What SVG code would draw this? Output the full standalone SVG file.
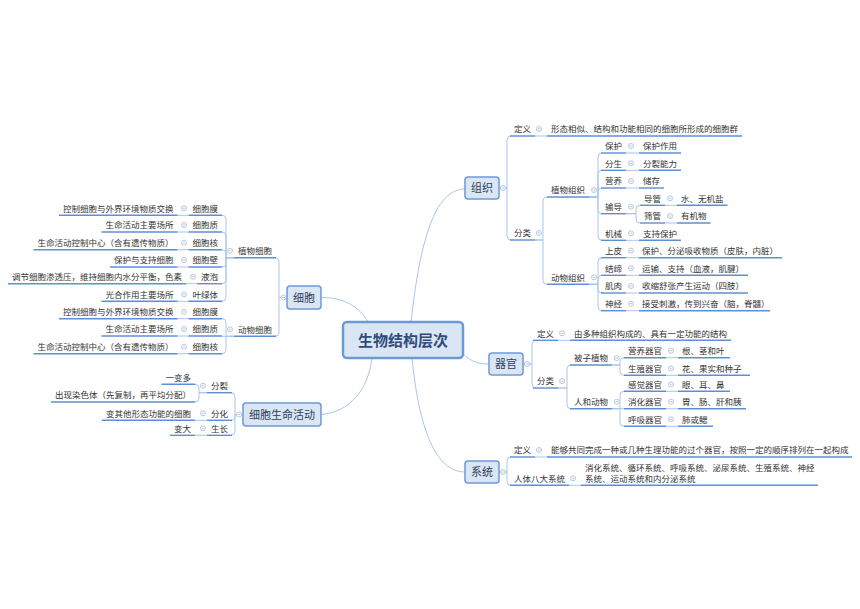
<svg xmlns="http://www.w3.org/2000/svg" xmlns:xlink="http://www.w3.org/1999/xlink" width="860" height="609" viewBox="0 0 860 609">
<style>
text{font-family:"Noto Sans CJK SC","Noto Sans",sans-serif;font-size:8.5px;fill:#333}
.e{text-anchor:end}
.b{font-size:11px;fill:#2e3f5c;text-anchor:middle}
.c{font-size:15px;font-weight:bold;fill:#2f4d7c;text-anchor:middle}
.box{fill:#dbe6f4;stroke:#6c9ad6;stroke-width:1.5}
.ul{stroke:#5d8fd5;stroke-width:1.4;fill:none}
.cn{stroke:#a9c5ec;stroke-width:1;fill:none}
.mk{fill:#fff;stroke:#a5b9d6;stroke-width:0.8}
</style>
<defs>
<g id="m"><circle class="mk" r="2.5"/><path d="M-1.3,0H1.3" stroke="#a5b9d6" stroke-width="0.8"/></g>
</defs>
<rect width="860" height="609" fill="#fff"/>

<g id="connectors">
<!-- central -->
<path class="cn" d="M411,322 C420,240 435,189 465,189"/>
<path class="cn" d="M463,354 C472,362 478,364 489,364"/>
<path class="cn" d="M412,358 C420,440 440,472 465,472"/>
<path class="cn" d="M321,297.5 C345,297 360,308 368,322"/>
<path class="cn" d="M321,414.5 C350,412 368,390 372,358"/>
<!-- 组织 -->
<path class="cn" d="M499,188 H507 V140 Q507,136 511,136"/>
<path class="cn" d="M499,188 H507 V236 Q507,240 511,240"/>
<path class="cn" d="M535,136 H547"/>
<path class="cn" d="M535,240 H543 V201 Q543,197 547,197"/>
<path class="cn" d="M535,240 H543 V280.3 Q543,284.3 547,284.3"/>
<path class="cn" d="M589,197 H598 V157 Q598,153 602,153"/>
<path class="cn" d="M589,197 H598 V174.3 Q598,170.3 602,170.3"/>
<path class="cn" d="M589,197 H598 V192 Q598,188 602,188"/>
<path class="cn" d="M589,197 H598 V209.7 Q598,213.7 602,213.7"/>
<path class="cn" d="M589,197 H598 V236.3 Q598,240.3 602,240.3"/>
<path class="cn" d="M626,153 H639 M626,170.3 H639 M626,188 H639 M626,240.3 H639"/>
<path class="cn" d="M626,213.7 H636 V209.3 Q636,205.3 640,205.3"/>
<path class="cn" d="M626,213.7 H636 V219 Q636,223 640,223"/>
<path class="cn" d="M665,205.3 H677 M665,223 H677"/>
<path class="cn" d="M589,284.3 H598 V261.7 Q598,257.7 602,257.7"/>
<path class="cn" d="M589,284.3 H598 V279.3 Q598,275.3 602,275.3"/>
<path class="cn" d="M589,284.3 H598 V289 Q598,293 602,293"/>
<path class="cn" d="M589,284.3 H598 V306.7 Q598,310.7 602,310.7"/>
<path class="cn" d="M626,257.7 H639 M626,275.3 H639 M626,293 H639 M626,310.7 H639"/>
<!-- 器官 -->
<path class="cn" d="M523,364 H532 V344.3 Q532,340.3 536,340.3"/>
<path class="cn" d="M523,364 H532 V384 Q532,388 536,388"/>
<path class="cn" d="M558,340.3 H570"/>
<path class="cn" d="M558,388 H567 V369 Q567,365 571,365"/>
<path class="cn" d="M558,388 H567 V404.7 Q567,408.7 571,408.7"/>
<path class="cn" d="M612,365 H620 V361.7 Q620,357.7 624,357.7"/>
<path class="cn" d="M612,365 H620 V371.3 Q620,375.3 624,375.3"/>
<path class="cn" d="M612,408.7 H620 V395.3 Q620,391.3 624,391.3"/>
<path class="cn" d="M612,408.7 H624"/>
<path class="cn" d="M612,408.7 H620 V422.3 Q620,426.3 624,426.3"/>
<path class="cn" d="M666,357.7 H678 M666,375.3 H678 M666,391.3 H678 M666,408.7 H678 M666,426.3 H678"/>
<!-- 系统 -->
<path class="cn" d="M499,472 H507 V461 Q507,457 511,457"/>
<path class="cn" d="M499,472 H507 V481.3 Q507,485.3 511,485.3"/>
<path class="cn" d="M535,457 H547 M569,485.3 H581"/>
<!-- 细胞 -->
<path class="cn" d="M287,297.5 H279 V261.7 Q279,257.7 275,257.7"/>
<path class="cn" d="M287,297.5 H279 V332.3 Q279,336.3 275,336.3"/>
<path class="cn" d="M234,257.7 H226 V219.3 Q226,215.3 222,215.3"/>
<path class="cn" d="M234,257.7 H226 V236 Q226,232 222,232"/>
<path class="cn" d="M234,257.7 H226 V253.7 Q226,249.7 222,249.7"/>
<path class="cn" d="M234,257.7 H226 V263 Q226,267 222,267"/>
<path class="cn" d="M234,257.7 H226 V279.7 Q226,283.7 222,283.7"/>
<path class="cn" d="M234,257.7 H226 V297.3 Q226,301.3 222,301.3"/>
<path class="cn" d="M234,336.3 H226 V322.7 Q226,318.7 222,318.7"/>
<path class="cn" d="M234,336.3 H222"/>
<path class="cn" d="M234,336.3 H226 V349.7 Q226,353.7 222,353.7"/>
<path class="cn" d="M188.5,215.3 H177.5 M188.5,232 H177.5 M188.5,249.7 H177.5 M188.5,267 H177.5 M197,283.7 H186 M188.5,301.3 H177.5"/>
<path class="cn" d="M188.5,318.7 H177.5 M188.5,336 H177.5 M188.5,353.7 H177.5"/>
<!-- 细胞生命活动 -->
<path class="cn" d="M243,414.5 H235 V396.7 Q235,392.7 231,392.7"/>
<path class="cn" d="M243,414.5 H235 V416.3 Q235,420.3 231,420.3"/>
<path class="cn" d="M243,414.5 H235 V431.3 Q235,435.3 231,435.3"/>
<path class="cn" d="M207,392.7 H199 V388.3 Q199,384.3 195,384.3"/>
<path class="cn" d="M207,392.7 H199 V398 Q199,402 195,402"/>
<path class="cn" d="M207,420.3 H195 M207,435.3 H195"/>
</g>

<g id="n-root">
<rect class="box" x="343" y="322" width="120" height="36" rx="4" style="stroke-width:2.5"/>
<text class="c" x="403" y="345.5">生物结构层次</text>
</g>

<!-- 组织 -->
<g id="n-zuzhi"><rect class="box" x="465" y="177" width="34" height="22" rx="3"/><text class="b" x="482" y="192">组织</text><use href="#m" x="503" y="188"/></g>
<g id="n-zz-dy"><text x="514" y="132.2">定义</text><path class="ul" d="M510,136 H535"/><use href="#m" x="539" y="129"/></g>
<g id="n-zz-dy-1"><text x="551" y="132.2">形态相似、结构和功能相同的细胞所形成的细胞群</text><path class="ul" d="M547,136 H742"/></g>
<g id="n-zz-fl"><text x="514" y="236.2">分类</text><path class="ul" d="M510,240 H535"/><use href="#m" x="539" y="233"/></g>
<g id="n-zwzz"><text x="551" y="193.2">植物组织</text><path class="ul" d="M547,197 H589"/><use href="#m" x="594" y="190"/></g>
<g id="n-baohu"><text x="605" y="149.2">保护</text><path class="ul" d="M601,153 H626"/><use href="#m" x="631" y="146"/></g>
<g id="n-baohu-1"><text x="643" y="149.2">保护作用</text><path class="ul" d="M639,153 H681"/></g>
<g id="n-fensheng"><text x="605" y="166.5">分生</text><path class="ul" d="M601,170.3 H626"/><use href="#m" x="631" y="163.3"/></g>
<g id="n-fensheng-1"><text x="643" y="166.5">分裂能力</text><path class="ul" d="M639,170.3 H681"/></g>
<g id="n-yingyang"><text x="605" y="184.2">营养</text><path class="ul" d="M601,188 H626"/><use href="#m" x="631" y="181"/></g>
<g id="n-yingyang-1"><text x="643" y="184.2">储存</text><path class="ul" d="M639,188 H664"/></g>
<g id="n-shudao"><text x="605" y="209.9">输导</text><path class="ul" d="M601,213.7 H626"/><use href="#m" x="631" y="206.7"/></g>
<g id="n-daoguan"><text x="644" y="201.5">导管</text><path class="ul" d="M640,205.3 H665"/><use href="#m" x="670" y="198.3"/></g>
<g id="n-daoguan-1"><text x="681" y="201.5">水、无机盐</text><path class="ul" d="M677,205.3 H727.5"/></g>
<g id="n-shaiguan"><text x="644" y="219.2">筛管</text><path class="ul" d="M640,223 H665"/><use href="#m" x="670" y="216"/></g>
<g id="n-shaiguan-1"><text x="681" y="219.2">有机物</text><path class="ul" d="M677,223 H710.5"/></g>
<g id="n-jixie"><text x="605" y="236.5">机械</text><path class="ul" d="M601,240.3 H626"/><use href="#m" x="631" y="233.3"/></g>
<g id="n-jixie-1"><text x="643" y="236.5">支持保护</text><path class="ul" d="M639,240.3 H681"/></g>
<g id="n-dwzz"><text x="551" y="280.5">动物组织</text><path class="ul" d="M547,284.3 H589"/><use href="#m" x="594" y="277.3"/></g>
<g id="n-shangpi"><text x="605" y="253.9">上皮</text><path class="ul" d="M601,257.7 H626"/><use href="#m" x="631" y="250.7"/></g>
<g id="n-shangpi-1"><text x="642" y="253.9">保护、分泌吸收物质（皮肤，内脏）</text><path class="ul" d="M639,257.7 H782"/></g>
<g id="n-jiedi"><text x="605" y="271.5">结缔</text><path class="ul" d="M601,275.3 H626"/><use href="#m" x="631" y="268.3"/></g>
<g id="n-jiedi-1"><text x="642" y="271.5">运输、支持（血液，肌腱）</text><path class="ul" d="M639,275.3 H748"/></g>
<g id="n-jirou"><text x="605" y="289.2">肌肉</text><path class="ul" d="M601,293 H626"/><use href="#m" x="631" y="286"/></g>
<g id="n-jirou-1"><text x="642" y="289.2">收缩舒张产生运动（四肢）</text><path class="ul" d="M639,293 H748"/></g>
<g id="n-shenjing"><text x="605" y="306.9">神经</text><path class="ul" d="M601,310.7 H626"/><use href="#m" x="631" y="303.7"/></g>
<g id="n-shenjing-1"><text x="642" y="306.9">接受刺激，传到兴奋（脑，脊髓）</text><path class="ul" d="M639,310.7 H770"/></g>

<!-- 器官 -->
<g id="n-qiguan"><rect class="box" x="489" y="353" width="34" height="22" rx="3"/><text class="b" x="506" y="368">器官</text><use href="#m" x="527" y="364"/></g>
<g id="n-qg-dy"><text x="537" y="336.5">定义</text><path class="ul" d="M533,340.3 H558"/><use href="#m" x="562" y="333.3"/></g>
<g id="n-qg-dy-1"><text x="574" y="336.5">由多种组织构成的、具有一定功能的结构</text><path class="ul" d="M570,340.3 H731"/></g>
<g id="n-qg-fl"><text x="537" y="384.2">分类</text><path class="ul" d="M533,388 H558"/><use href="#m" x="562" y="381"/></g>
<g id="n-bzzw"><text x="574" y="361.2">被子植物</text><path class="ul" d="M570,365 H612"/><use href="#m" x="616.7" y="358"/></g>
<g id="n-yyqg"><text x="628" y="353.9">营养器官</text><path class="ul" d="M624,357.7 H666"/><use href="#m" x="671" y="350.7"/></g>
<g id="n-yyqg-1"><text x="682" y="353.9">根、茎和叶</text><path class="ul" d="M678,357.7 H730"/></g>
<g id="n-szqg"><text x="628" y="371.5">生殖器官</text><path class="ul" d="M624,375.3 H666"/><use href="#m" x="671" y="368.3"/></g>
<g id="n-szqg-1"><text x="682" y="371.5">花、果实和种子</text><path class="ul" d="M678,375.3 H750"/></g>
<g id="n-rhdw"><text x="574" y="404.9">人和动物</text><path class="ul" d="M570,408.7 H612"/><use href="#m" x="616.7" y="401.7"/></g>
<g id="n-gjqg"><text x="628" y="387.5">感觉器官</text><path class="ul" d="M624,391.3 H666"/><use href="#m" x="671" y="384.3"/></g>
<g id="n-gjqg-1"><text x="682" y="387.5">眼、耳、鼻</text><path class="ul" d="M678,391.3 H730"/></g>
<g id="n-xhqg"><text x="628" y="404.9">消化器官</text><path class="ul" d="M624,408.7 H666"/><use href="#m" x="671" y="401.7"/></g>
<g id="n-xhqg-1"><text x="682" y="404.9">胃、肠、肝和胰</text><path class="ul" d="M678,408.7 H746"/></g>
<g id="n-hxqg"><text x="628" y="422.5">呼吸器官</text><path class="ul" d="M624,426.3 H666"/><use href="#m" x="671" y="419.3"/></g>
<g id="n-hxqg-1"><text x="682" y="422.5">肺或鳃</text><path class="ul" d="M678,426.3 H713"/></g>

<!-- 系统 -->
<g id="n-xitong"><rect class="box" x="465" y="461" width="34" height="22" rx="3"/><text class="b" x="482" y="476">系统</text><use href="#m" x="503" y="472"/></g>
<g id="n-xt-dy"><text x="514" y="453.2">定义</text><path class="ul" d="M510,457 H535"/><use href="#m" x="539" y="450"/></g>
<g id="n-xt-dy-1"><text x="551" y="453.2">能够共同完成一种或几种生理功能的过个器官，按照一定的顺序排列在一起构成</text><path class="ul" d="M547,457 H852"/></g>
<g id="n-rtbd"><text x="514" y="481.5">人体八大系统</text><path class="ul" d="M510,485.3 H569"/><use href="#m" x="573" y="478.3"/></g>
<g id="n-rtbd-1"><text x="585" y="470.5">消化系统、循环系统、呼吸系统、泌尿系统、生殖系统、神经</text><text x="585" y="481.5">系统、运动系统和内分泌系统</text><path class="ul" d="M581,485.3 H818"/></g>

<!-- 细胞 -->
<g id="n-xibao"><rect class="box" x="287" y="286" width="34" height="23" rx="3"/><text class="b" x="304" y="301.5">细胞</text><use href="#m" x="283.5" y="297.5"/></g>
<g id="n-zwxb"><text class="e" x="272" y="253.9">植物细胞</text><path class="ul" d="M234,257.7 H276"/><use href="#m" x="230" y="250.7"/></g>
<g id="n-zw-xbm"><text class="e" x="218" y="211.5">细胞膜</text><path class="ul" d="M188.5,215.3 H222"/><use href="#m" x="184" y="208.3"/></g>
<g id="n-zw-xbm-1"><text class="e" x="173.5" y="211.5">控制细胞与外界环境物质交换</text><path class="ul" d="M59,215.3 H177.5"/></g>
<g id="n-zw-xbz"><text class="e" x="218" y="228.2">细胞质</text><path class="ul" d="M188.5,232 H222"/><use href="#m" x="184" y="225"/></g>
<g id="n-zw-xbz-1"><text class="e" x="173.5" y="228.2">生命活动主要场所</text><path class="ul" d="M101.5,232 H177.5"/></g>
<g id="n-zw-xbh"><text class="e" x="218" y="245.9">细胞核</text><path class="ul" d="M188.5,249.7 H222"/><use href="#m" x="184" y="242.7"/></g>
<g id="n-zw-xbh-1"><text class="e" x="173.5" y="245.9">生命活动控制中心（含有遗传物质）</text><path class="ul" d="M33.5,249.7 H177.5"/></g>
<g id="n-zw-xbb"><text class="e" x="218" y="263.2">细胞壁</text><path class="ul" d="M188.5,267 H222"/><use href="#m" x="184" y="260"/></g>
<g id="n-zw-xbb-1"><text class="e" x="173.5" y="263.2">保护与支持细胞</text><path class="ul" d="M110,267 H177.5"/></g>
<g id="n-zw-yp"><text class="e" x="218" y="279.9">液泡</text><path class="ul" d="M197,283.7 H222"/><use href="#m" x="193" y="276.7"/></g>
<g id="n-zw-yp-1"><text class="e" x="182" y="279.9">调节细胞渗透压，维持细胞内水分平衡，色素</text><path class="ul" d="M8,283.7 H186"/></g>
<g id="n-zw-ylt"><text class="e" x="218" y="297.5">叶绿体</text><path class="ul" d="M188.5,301.3 H222"/><use href="#m" x="184" y="294.3"/></g>
<g id="n-zw-ylt-1"><text class="e" x="173.5" y="297.5">光合作用主要场所</text><path class="ul" d="M101.5,301.3 H177.5"/></g>
<g id="n-dwxb"><text class="e" x="272" y="332.5">动物细胞</text><path class="ul" d="M234,336.3 H276"/><use href="#m" x="230" y="329.3"/></g>
<g id="n-dw-xbm"><text class="e" x="218" y="314.9">细胞膜</text><path class="ul" d="M188.5,318.7 H222"/><use href="#m" x="184" y="311.7"/></g>
<g id="n-dw-xbm-1"><text class="e" x="173.5" y="314.9">控制细胞与外界环境物质交换</text><path class="ul" d="M59,318.7 H177.5"/></g>
<g id="n-dw-xbz"><text class="e" x="218" y="332.2">细胞质</text><path class="ul" d="M188.5,336 H222"/><use href="#m" x="184" y="329"/></g>
<g id="n-dw-xbz-1"><text class="e" x="173.5" y="332.2">生命活动主要场所</text><path class="ul" d="M101.5,336 H177.5"/></g>
<g id="n-dw-xbh"><text class="e" x="218" y="349.9">细胞核</text><path class="ul" d="M188.5,353.7 H222"/><use href="#m" x="184" y="346.7"/></g>
<g id="n-dw-xbh-1"><text class="e" x="173.5" y="349.9">生命活动控制中心（含有遗传物质）</text><path class="ul" d="M33.5,353.7 H177.5"/></g>

<!-- 细胞生命活动 -->
<g id="n-xbsmhd"><rect class="box" x="243" y="403" width="78" height="23" rx="3"/><text class="b" x="282" y="418.5">细胞生命活动</text><use href="#m" x="239" y="414.5"/></g>
<g id="n-fenlie"><text class="e" x="228" y="388.9">分裂</text><path class="ul" d="M207,392.7 H232"/><use href="#m" x="203" y="385.7"/></g>
<g id="n-fenlie-1"><text class="e" x="191" y="380.5">一变多</text><path class="ul" d="M161.5,384.3 H195"/></g>
<g id="n-fenlie-2"><text class="e" x="191" y="398.2">出现染色体（先复制，再平均分配）</text><path class="ul" d="M51,402 H195"/></g>
<g id="n-fenhua"><text class="e" x="228" y="416.5">分化</text><path class="ul" d="M207,420.3 H232"/><use href="#m" x="203" y="413.3"/></g>
<g id="n-fenhua-1"><text class="e" x="191" y="416.5">变其他形态功能的细胞</text><path class="ul" d="M102,420.3 H195"/></g>
<g id="n-shengzhang"><text class="e" x="228" y="431.5">生长</text><path class="ul" d="M207,435.3 H232"/><use href="#m" x="203" y="428.3"/></g>
<g id="n-shengzhang-1"><text class="e" x="191" y="431.5">变大</text><path class="ul" d="M170,435.3 H195"/></g>
</svg>
